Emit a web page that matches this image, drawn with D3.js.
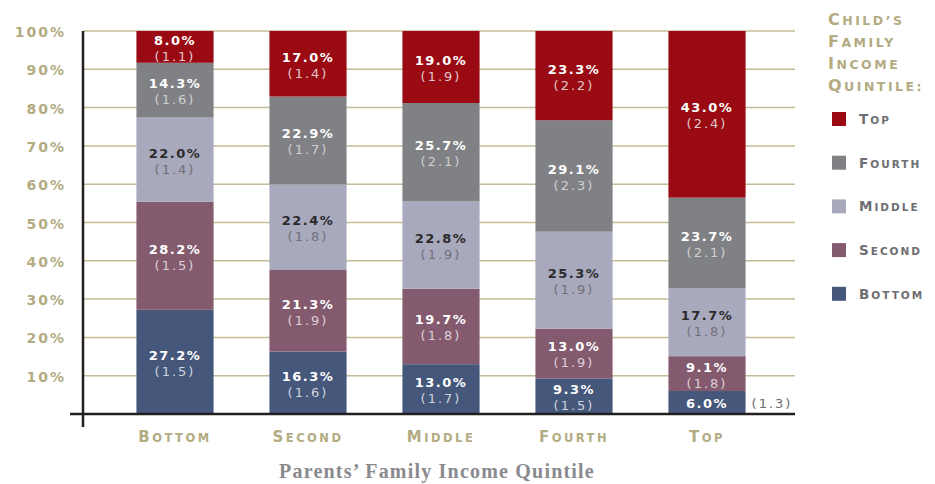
<!DOCTYPE html>
<html>
<head>
<meta charset="UTF-8">
<title>income mobility</title>
<style>
    body { margin: 0; background: #fff; }
    .grid line { stroke: #c3bc96; stroke-width: 1.5px; }
    .axis-line { stroke: #231f20; stroke-width: 2.5px; }
    .ytick { fill: #b3ab82; font: bold 14px "DejaVu Sans"; letter-spacing: 2px; }
    .xtick { fill: #b3ab82; font-family: "DejaVu Sans"; font-weight: bold; letter-spacing: 2.5px; }
    .pct { font: bold 13px "DejaVu Sans"; letter-spacing: 1.5px; }
    .se { font: 13px "DejaVu Sans"; letter-spacing: 2px; }
    .leg-title { fill: #b3ab82; font-family: "DejaVu Sans"; font-weight: bold; letter-spacing: 2.5px; }
    .leg-item { fill: #6e6e72; font-family: "DejaVu Sans"; font-weight: bold; letter-spacing: 2px; }
    .title { fill: #8a8a8e; font: bold 20px "Liberation Serif"; letter-spacing: 1.2px; }
</style>
</head>
<body>
<svg width="935" height="484"></svg>
<script src="https://cdn.jsdelivr.net/npm/d3@7"></script>
<script>

    // parents' quintile (x) and child's quintile (stack, bottom to top)
    var parents = ["Bottom", "Second", "Middle", "Fourth", "Top"];
    var childKeys = ["Bottom", "Second", "Middle", "Fourth", "Top"];

    // percentages, one array per parents' quintile, in childKeys order
    var pctBottom = [27.2, 28.2, 22.0, 14.3, 8.0];
    var pctSecond = [16.3, 21.3, 22.4, 22.9, 17.0];
    var pctMiddle = [13.0, 19.7, 22.8, 25.7, 19.0];
    var pctFourth = [9.3, 13.0, 25.3, 29.1, 23.3];
    var pctTop = [6.0, 9.1, 17.7, 23.7, 43.0];

    // standard errors, same layout
    var seBottom = [1.5, 1.5, 1.4, 1.6, 1.1];
    var seSecond = [1.6, 1.9, 1.8, 1.7, 1.4];
    var seMiddle = [1.7, 1.8, 1.9, 2.1, 1.9];
    var seFourth = [1.5, 1.9, 1.9, 2.3, 2.2];
    var seTop = [1.3, 1.8, 1.8, 2.1, 2.4];

    var yTicks = [10, 20, 30, 40, 50, 60, 70, 80, 90, 100];

    var colors = ["#45577b", "#845a6f", "#a9a9be", "#808184", "#9a0a13"];
    var pctColors = ["#fff", "#fff", "#2a2a2a", "#fff", "#fff"];
    var seColors = ["#cfd3dc", "#dccfd6", "#6f6f78", "#d0d0d2", "#e0c8ca"];

    var pctRows = [pctBottom, pctSecond, pctMiddle, pctFourth, pctTop];
    var seRows = [seBottom, seSecond, seMiddle, seFourth, seTop];

    var table = parents.map(function (p, i) {
        var row = {parent: p};
        childKeys.forEach(function (k, j) {
            row[k] = pctRows[i][j];
            row["se_" + k] = seRows[i][j];
        });
        return row;
    });

    // copperplate-ish small caps: first letter big, rest uppercase smaller
    function smallCaps(sel, big, small) {
        sel.each(function (d) {
            var t = d3.select(this);
            var words = String(d).split(" ");
            words.forEach(function (w, i) {
                t.append("tspan").style("font-size", big + "px").text((i ? " " : "") + w.charAt(0).toUpperCase());
                t.append("tspan").style("font-size", small + "px").text(w.slice(1).toUpperCase());
            });
        });
    }

    var svg = d3.select("svg");

    var x = d3.scaleBand()
        .domain(parents)
        .range([108.5, 773.5])
        .paddingInner(0.42)
        .paddingOuter(0.21);

    var y = d3.scaleLinear()
        .domain([0, 100])
        .range([414, 31]);

    var plotLeft = 83, plotRight = 795;

    // gridlines
    svg.append("g")
        .attr("class", "grid")
        .selectAll("line")
        .data(yTicks)
        .join("line")
        .attr("x1", plotLeft)
        .attr("x2", plotRight)
        .attr("y1", function (d) { return y(d); })
        .attr("y2", function (d) { return y(d); });

    // y tick labels
    svg.append("g")
        .selectAll("text")
        .data(yTicks)
        .join("text")
        .attr("class", "ytick")
        .attr("x", 66)
        .attr("y", function (d) { return y(d) + 6; })
        .attr("text-anchor", "end")
        .text(function (d) { return d + "%"; });

    var stack = d3.stack().keys(childKeys);
    var series = stack(table);

    // top segment is stretched to 100%
    var last = series[series.length - 1];
    last.forEach(function (s) { s[1] = 100; });

    var layer = svg.append("g")
        .selectAll("g")
        .data(series)
        .join("g")
        .attr("fill", function (d, i) { return colors[i]; });

    layer.selectAll("rect")
        .data(function (d) { return d; })
        .join("rect")
        .attr("x", function (d) { return x(d.data.parent); })
        .attr("width", x.bandwidth())
        .attr("y", function (d) { return y(Math.min(d[1], 100)); })
        .attr("height", function (d) { return y(d[0]) - y(Math.min(d[1], 100)); });

    // labels
    series.forEach(function (s, i) {
        var key = childKeys[i];
        s.forEach(function (d) {
            var cx = x(d.data.parent) + x.bandwidth() / 2;
            var top = y(Math.min(d[1], 100)), bot = y(d[0]);
            var mid = (top + bot) / 2;
            var small = bot - top < 30;
            svg.append("text")
                .attr("class", "pct")
                .attr("x", cx)
                .attr("y", small ? mid + 5 : mid - 2)
                .attr("text-anchor", "middle")
                .attr("fill", pctColors[i])
                .text(d.data[key].toFixed(1) + "%");
            svg.append("text")
                .attr("class", "se")
                .attr("text-anchor", small ? "start" : "middle")
                .attr("x", small ? x(d.data.parent) + x.bandwidth() + 6 : cx)
                .attr("y", small ? mid + 5 : mid + 14)
                .attr("fill", small ? "#6b6b70" : seColors[i])
                .text("(" + d.data["se_" + key].toFixed(1) + ")");
        });
    });

    // axes lines
    svg.append("line")
        .attr("class", "axis-line")
        .attr("x1", plotLeft).attr("x2", plotLeft)
        .attr("y1", y(100)).attr("y2", y(0) + 13);
    svg.append("line")
        .attr("class", "axis-line")
        .attr("x1", plotLeft - 13).attr("x2", plotRight)
        .attr("y1", y(0)).attr("y2", y(0));

    // x tick labels
    svg.append("g")
        .selectAll("text")
        .data(parents)
        .join("text")
        .attr("class", "xtick")
        .attr("x", function (d) { return x(d) + x.bandwidth() / 2; })
        .attr("y", 442)
        .attr("text-anchor", "middle")
        .call(smallCaps, 15, 11.5);

    // axis title
    svg.append("text")
        .attr("class", "title")
        .attr("x", 437)
        .attr("y", 478)
        .attr("text-anchor", "middle")
        .text("Parents\u2019 Family Income Quintile");

    // legend
    var legTitle = ["Child\u2019s", "Family", "Income", "Quintile:"];
    svg.append("g")
        .selectAll("text")
        .data(legTitle)
        .join("text")
        .attr("class", "leg-title")
        .attr("x", 828)
        .attr("y", function (d, i) { return 25 + i * 22; })
        .call(smallCaps, 16, 12.5);

    var legOrder = childKeys.slice().reverse();
    var leg = svg.append("g")
        .selectAll("g")
        .data(legOrder)
        .join("g")
        .attr("transform", function (d, i) { return "translate(832," + (112 + i * 43.7) + ")"; });
    leg.append("rect")
        .attr("width", 14)
        .attr("height", 14)
        .attr("fill", function (d) { return colors[childKeys.indexOf(d)]; });
    leg.append("text")
        .attr("class", "leg-item")
        .attr("x", 27)
        .attr("y", 12)
        .call(smallCaps, 13.5, 10.5);

</script>
</body>
</html>
